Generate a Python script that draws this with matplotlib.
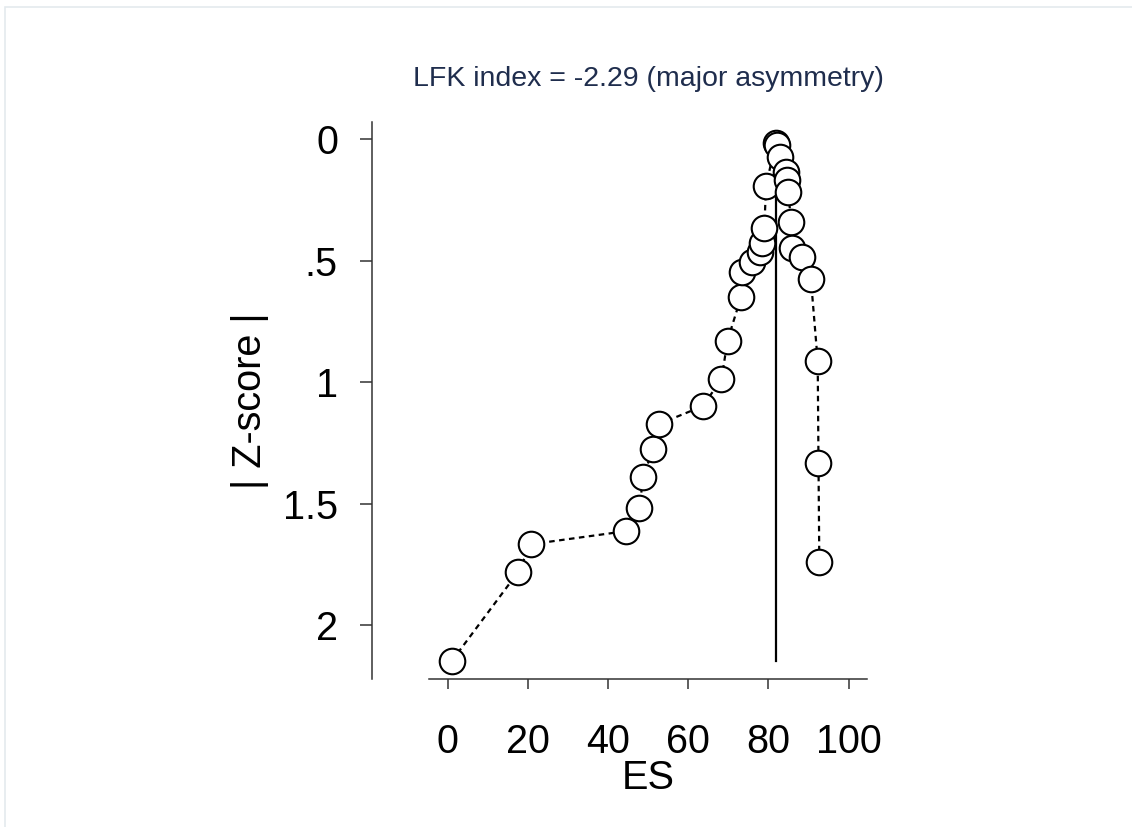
#!/usr/bin/env python3
"""Doi plot (LFK index) recreated with matplotlib."""

import matplotlib
matplotlib.use("Agg")
import matplotlib.pyplot as plt
from matplotlib.patches import Rectangle

plt.rcParams['font.family'] = ['Liberation Sans', 'DejaVu Sans']

# Data (ES percentile vs |Z-score|), ordered by ES
es = [1.0, 17.5, 20.8, 44.6, 47.8, 48.8, 51.2, 52.6, 63.6, 68.3, 69.8,
      73.2, 73.4, 75.8, 77.9, 78.3, 79.0, 79.4, 81.8, 82.2, 82.9, 84.4,
      84.6, 84.9, 85.7, 85.8, 88.3, 90.6, 92.3, 92.5, 92.7]
zscore = [2.148, 1.783, 1.667, 1.613, 1.517, 1.389, 1.275, 1.173, 1.099,
          0.988, 0.829, 0.648, 0.545, 0.504, 0.463, 0.428, 0.366, 0.192,
          0.017, 0.023, 0.072, 0.133, 0.168, 0.216, 0.339, 0.449, 0.483,
          0.575, 0.913, 1.334, 1.739]
peak_es = 81.8
lfk_index = -2.29
x_ticks = [0, 20, 40, 60, 80, 100]
y_ticks = [0, 0.5, 1, 1.5, 2]
y_tick_labels = ['0', '.5', '1', '1.5', '2']

W, H = 1132, 827
fig = plt.figure(figsize=(W / 100, H / 100), dpi=100)
ax = fig.add_axes([429 / W, (H - 679.3) / H, 438 / W, 557.6 / H])

# vertical line at the ES of the most precise study
ax.plot([peak_es, peak_es], [0, max(zscore)], color='black', lw=1.6, zorder=1)

ax.plot(es, zscore, linestyle=(0, (2.5, 2)), color='black', lw=1.6,
        marker='o', markersize=18.4, markerfacecolor='white',
        markeredgecolor='black', markeredgewidth=1.5, zorder=2)

ax.set_xlim(-4.67, 104.6)
ax.set_ylim(2.223, -0.072)

for s in ['top', 'right']:
    ax.spines[s].set_visible(False)
for s in ['left', 'bottom']:
    ax.spines[s].set_linewidth(1.1)
    ax.spines[s].set_color('#333333')
ax.spines['left'].set_position(('outward', 41))

ax.set_xticks(x_ticks)
ax.set_yticks(y_ticks)
ax.set_yticklabels(y_tick_labels)
ax.tick_params(axis='x', direction='out', length=7.2, width=1.1,
               color='#333333', labelsize=28.5, pad=24)
ax.tick_params(axis='y', direction='out', length=8.6, width=1.1,
               color='#333333', labelsize=28.5, pad=16)

ax.set_xlabel('ES', fontsize=28.5, labelpad=-1)
ax.set_ylabel('| Z-score |', fontsize=28.5, labelpad=10)
ax.set_title(f'LFK index = {lfk_index:.2f} (major asymmetry)',
             fontsize=20.5, color='#1f2d4d', pad=26)

# faint frame around the figure
fig.add_artist(Rectangle((5 / W, -0.05), 1.1, (H - 6.5) / H + 0.05,
                         transform=fig.transFigure, fill=False,
                         edgecolor='#e4eaee', lw=1.2))

plt.savefig('out.png', dpi=100)
